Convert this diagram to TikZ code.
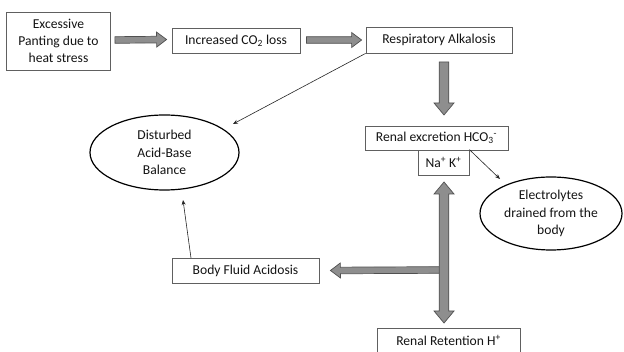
\documentclass[tikz,border=0pt]{standalone}
\usepackage{fontspec}
\setmainfont{Carlito}
\usetikzlibrary{calc,arrows.meta,shapes.geometric}
\definecolor{arrowfill}{HTML}{8E8E8E}
\definecolor{arrowline}{HTML}{505050}
\definecolor{boxline}{HTML}{606060}
\definecolor{txt}{HTML}{141414}
\newcommand\bpt[2]{({\x1+(\n2*(#1)-\n3*(#2))*1pt},{\y1+(\n3*(#1)+\n2*(#2))*1pt})}
\tikzset{
  bashaft/.store in=\bashaft, bahead/.store in=\bahead, bahlen/.store in=\bahlen,
  bashaft=3.5, bahead=7.5, bahlen=10,
  thinblock/.style={bashaft=3.3, bahead=7.5, bahlen=10},
  thickblock/.style={bashaft=4.8, bahead=10, bahlen=12},
  blockarrow/.style={draw=arrowline, fill=arrowfill, line width=0.7pt, line join=miter,
    to path={let \p1=(\tikztostart), \p2=(\tikztotarget),
      \n1={veclen(\x2-\x1,\y2-\y1)}, \n2={(\x2-\x1)/\n1}, \n3={(\y2-\y1)/\n1} in
      \bpt{0}{\bashaft} -- \bpt{\n1-\bahlen}{\bashaft} -- \bpt{\n1-\bahlen}{\bahead}
      -- \bpt{\n1}{0} -- \bpt{\n1-\bahlen}{-\bahead} -- \bpt{\n1-\bahlen}{-\bashaft}
      -- \bpt{0}{-\bashaft} -- cycle}},
  dblockarrow/.style={draw=arrowline, fill=arrowfill, line width=0.7pt, line join=miter,
    to path={let \p1=(\tikztostart), \p2=(\tikztotarget),
      \n1={veclen(\x2-\x1,\y2-\y1)}, \n2={(\x2-\x1)/\n1}, \n3={(\y2-\y1)/\n1} in
      \bpt{0}{0} -- \bpt{\bahlen}{\bahead} -- \bpt{\bahlen}{\bashaft}
      -- \bpt{\n1-\bahlen}{\bashaft} -- \bpt{\n1-\bahlen}{\bahead}
      -- \bpt{\n1}{0} -- \bpt{\n1-\bahlen}{-\bahead} -- \bpt{\n1-\bahlen}{-\bashaft}
      -- \bpt{\bahlen}{-\bashaft} -- \bpt{\bahlen}{-\bahead} -- cycle}},
  box/.style={draw=boxline, line width=0.8pt, fill=white, text=txt, inner sep=0pt,
    align=center, font=\fontsize{13.6}{17}\selectfont},
  oval/.style={ellipse, draw=black, line width=1.2pt, text=txt, inner sep=0pt,
    align=center, font=\fontsize{13.6}{17.5}\selectfont},
  thin/.style={draw=black!85, line width=0.6pt, -{Stealth[length=5pt,width=4pt]}},
}
\begin{document}
\begin{tikzpicture}[x=1pt,y=-1pt]
\useasboundingbox (0,0) rectangle (624,352);
\clip (0,0) rectangle (624,352);
\fill[white] (0,0) rectangle (624,352);

% nodes
\node[box, minimum width=104pt, minimum height=58pt] (b1) at (58.5,41)
  {Excessive\\Panting due to\\heat stress};
\node[box, minimum width=128pt, minimum height=25pt] (b2) at (236,40.5)
  {Increased CO\textsubscript{2} loss};
\node[box, minimum width=146pt, minimum height=26pt] (b3) at (439,40)
  {Respiratory Alkalosis};
\node[box, minimum width=143pt, minimum height=24pt] (b4) at (436.5,138)
  {Renal excretion HCO\textsubscript{3}\textsuperscript{-}};
\node[box, minimum width=51pt, minimum height=25pt] (b5) at (443.5,162.5)
  {Na\textsuperscript{+} K\textsuperscript{+}};
\node[box, minimum width=147pt, minimum height=25pt] (b6) at (245.5,270.5)
  {Body Fluid Acidosis};
\node[box, minimum width=143pt, minimum height=24pt] (b7) at (448.5,340.5)
  {Renal Retention H\textsuperscript{+}};
\node[oval, minimum width=149pt, minimum height=75pt] (e1) at (164.5,152.5)
  {Disturbed\\Acid-Base\\Balance};
\node[oval, minimum width=142pt, minimum height=73pt] (e2) at (551,213.5)
  {Electrolytes\\drained from the\\body};

% free ends
\coordinate (t1) at (233,124);
\coordinate (t2) at (183,200);
\coordinate (t3) at (500,179);
\coordinate (s2) at (191,258);
\coordinate (vdown1) at (444,62);
\coordinate (vdown2) at (444,115);
\coordinate (vd1) at (444,182);
\coordinate (vd2) at (444,323);
\coordinate (hstart) at (440,270);

% block arrows
\path[blockarrow, thinblock] ($(b1.east)+(4,-1)$) to ($(b2.west)+(-5,-1)$);
\path[blockarrow, thinblock] ($(b2.east)+(6,-0.5)$) to ($(b3.west)+(-4,0)$);
\path[blockarrow, thickblock] (vdown1) to (vdown2);
\path[blockarrow, thinblock] (hstart) to ($(b6.east)+(11,0)$);
\path[dblockarrow, thickblock] (vd1) to (vd2);

% thin arrows
\draw[thin] (b3.south west) -- (t1);
\draw[thin] (s2) -- (t2);
\draw[thin] (b5.north east) -- (t3);
\end{tikzpicture}
\end{document}
